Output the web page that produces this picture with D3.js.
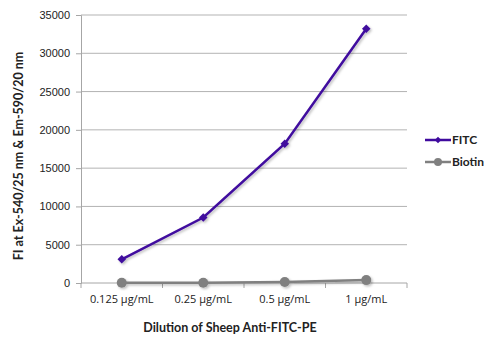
<!DOCTYPE html>
<html>
<head>
<meta charset="utf-8">
<script src="https://cdn.jsdelivr.net/npm/d3@7"></script>
<style>
  body { margin: 0; background: #fff; }
  svg { font-family: "Open Sans", "DejaVu Sans", sans-serif; }
  .title { font-family: Lato, "Open Sans", sans-serif; }
</style>
</head>
<body>
<div id="chart"></div>
<script>
var categories = ["0.125 µg/mL", "0.25 µg/mL", "0.5 µg/mL", "1 µg/mL"];
var fitcValues = [3100, 8550, 18200, 33200];
var biotinValues = [30, 40, 120, 380];
var yTicks = [0, 5000, 10000, 15000, 20000, 25000, 30000, 35000];
var seriesNames = ["FITC", "Biotin"];

var svgWidth = 500, svgHeight = 343;
var margin = { top: 15, right: 93, bottom: 60, left: 81 };
var width = svgWidth - margin.left - margin.right;
var height = svgHeight - margin.top - margin.bottom;

var svg = d3.select("#chart").append("svg")
    .attr("width", svgWidth)
    .attr("height", svgHeight);

var defs = svg.append("defs");
var shadow = defs.append("filter").attr("id", "shadow")
    .attr("x", "-20%").attr("y", "-20%").attr("width", "140%").attr("height", "140%");
shadow.append("feDropShadow")
    .attr("dx", 1.5).attr("dy", 1.5).attr("stdDeviation", 1)
    .attr("flood-color", "#000").attr("flood-opacity", 0.25);

var chartGroup = svg.append("g")
    .attr("transform", `translate(${margin.left}, ${margin.top})`);

var xScale = d3.scaleBand().domain(categories).range([0, width]);
var yScale = d3.scaleLinear().domain([0, 35000]).range([height, 0]);

// gridlines
chartGroup.append("g").selectAll("line")
    .data(yTicks.filter(d => d > 0))
    .enter().append("line")
    .attr("x1", 0).attr("x2", width)
    .attr("y1", d => yScale(d)).attr("y2", d => yScale(d))
    .attr("stroke", "#b3b3b3").attr("stroke-width", 1);

// y axis
var leftAxis = d3.axisLeft(yScale).tickValues(yTicks).tickSize(5).tickPadding(6).tickFormat(d3.format("d"));
var yAxis = chartGroup.append("g").call(leftAxis);
yAxis.select(".domain").attr("stroke", "#a6a6a6");
yAxis.selectAll(".tick line").attr("stroke", "#a6a6a6");
yAxis.selectAll("text").attr("font-size", "11px").attr("fill", "#222");

// x axis
var xAxisG = chartGroup.append("g").attr("transform", `translate(0, ${height})`);
xAxisG.append("line").attr("x1", 0).attr("x2", width).attr("y1", 0).attr("y2", 0)
    .attr("stroke", "#a6a6a6");
xAxisG.selectAll(".xtick").data(categories.concat(["end"]))
    .enter().append("line")
    .attr("x1", (d, i) => i * xScale.bandwidth()).attr("x2", (d, i) => i * xScale.bandwidth())
    .attr("y1", 0).attr("y2", 5).attr("stroke", "#a6a6a6");
xAxisG.selectAll("text").data(categories).enter().append("text")
    .attr("x", d => xScale(d) + xScale.bandwidth() / 2)
    .attr("y", 20)
    .attr("text-anchor", "middle")
    .attr("font-size", "11px").attr("fill", "#222")
    .text(d => d);

var line = d3.line()
    .x((d, i) => xScale(categories[i]) + xScale.bandwidth() / 2)
    .y(d => yScale(d));

// diamond = square turned 45 degrees
var diamond = d3.symbol().type(d3.symbolSquare).size(36);

// biotin
var biotinG = chartGroup.append("g").attr("filter", "url(#shadow)");
biotinG.append("path").datum(biotinValues)
    .attr("d", line).attr("fill", "none").attr("stroke", "#808080").attr("stroke-width", 2.5);
biotinG.selectAll("circle").data(biotinValues).enter().append("circle")
    .attr("cx", (d, i) => xScale(categories[i]) + xScale.bandwidth() / 2)
    .attr("cy", d => yScale(d))
    .attr("r", 5).attr("fill", "#808080");

// fitc
var fitcG = chartGroup.append("g").attr("filter", "url(#shadow)");
fitcG.append("path").datum(fitcValues)
    .attr("d", line).attr("fill", "none").attr("stroke", "#3f0a9e").attr("stroke-width", 2.5);
fitcG.selectAll("path.pt").data(fitcValues).enter().append("path")
    .attr("class", "pt")
    .attr("d", diamond)
    .attr("transform", (d, i) => `translate(${xScale(categories[i]) + xScale.bandwidth() / 2}, ${yScale(d)}) rotate(45)`)
    .attr("fill", "#3f0a9e");

// legend
var legendColors = ["#3f0a9e", "#808080"];
var legend = svg.append("g").attr("transform", "translate(425, 140)");
seriesNames.forEach(function (name, i) {
    var g = legend.append("g").attr("transform", `translate(0, ${i * 22})`);
    g.append("line").attr("x1", 0).attr("x2", 26).attr("y1", 0).attr("y2", 0)
        .attr("stroke", legendColors[i]).attr("stroke-width", 2.5);
    if (i === 0) {
        g.append("path").attr("d", d3.symbol().type(d3.symbolSquare).size(22))
            .attr("transform", "translate(13,0) rotate(45)").attr("fill", legendColors[i]);
    } else {
        g.append("circle").attr("cx", 13).attr("cy", 0).attr("r", 4).attr("fill", legendColors[i]);
    }
    g.append("text").attr("class", "title").attr("x", 27).attr("y", 4)
        .attr("font-size", "12px").attr("font-weight", "bold").attr("fill", "#222")
        .text(name);
});

// axis titles
svg.append("text")
    .attr("class", "title")
    .attr("x", 230).attr("y", 332)
    .attr("text-anchor", "middle")
    .attr("font-size", "12.5px").attr("font-weight", "bold").attr("fill", "#222")
    .text("Dilution of Sheep Anti-FITC-PE");

svg.append("text")
    .attr("class", "title")
    .attr("transform", "translate(23, 156) rotate(-90)")
    .attr("text-anchor", "middle")
    .attr("font-size", "12.5px").attr("font-weight", "bold").attr("fill", "#222")
    .text("FI at Ex-540/25 nm & Em-590/20 nm");
</script>
</body>
</html>
